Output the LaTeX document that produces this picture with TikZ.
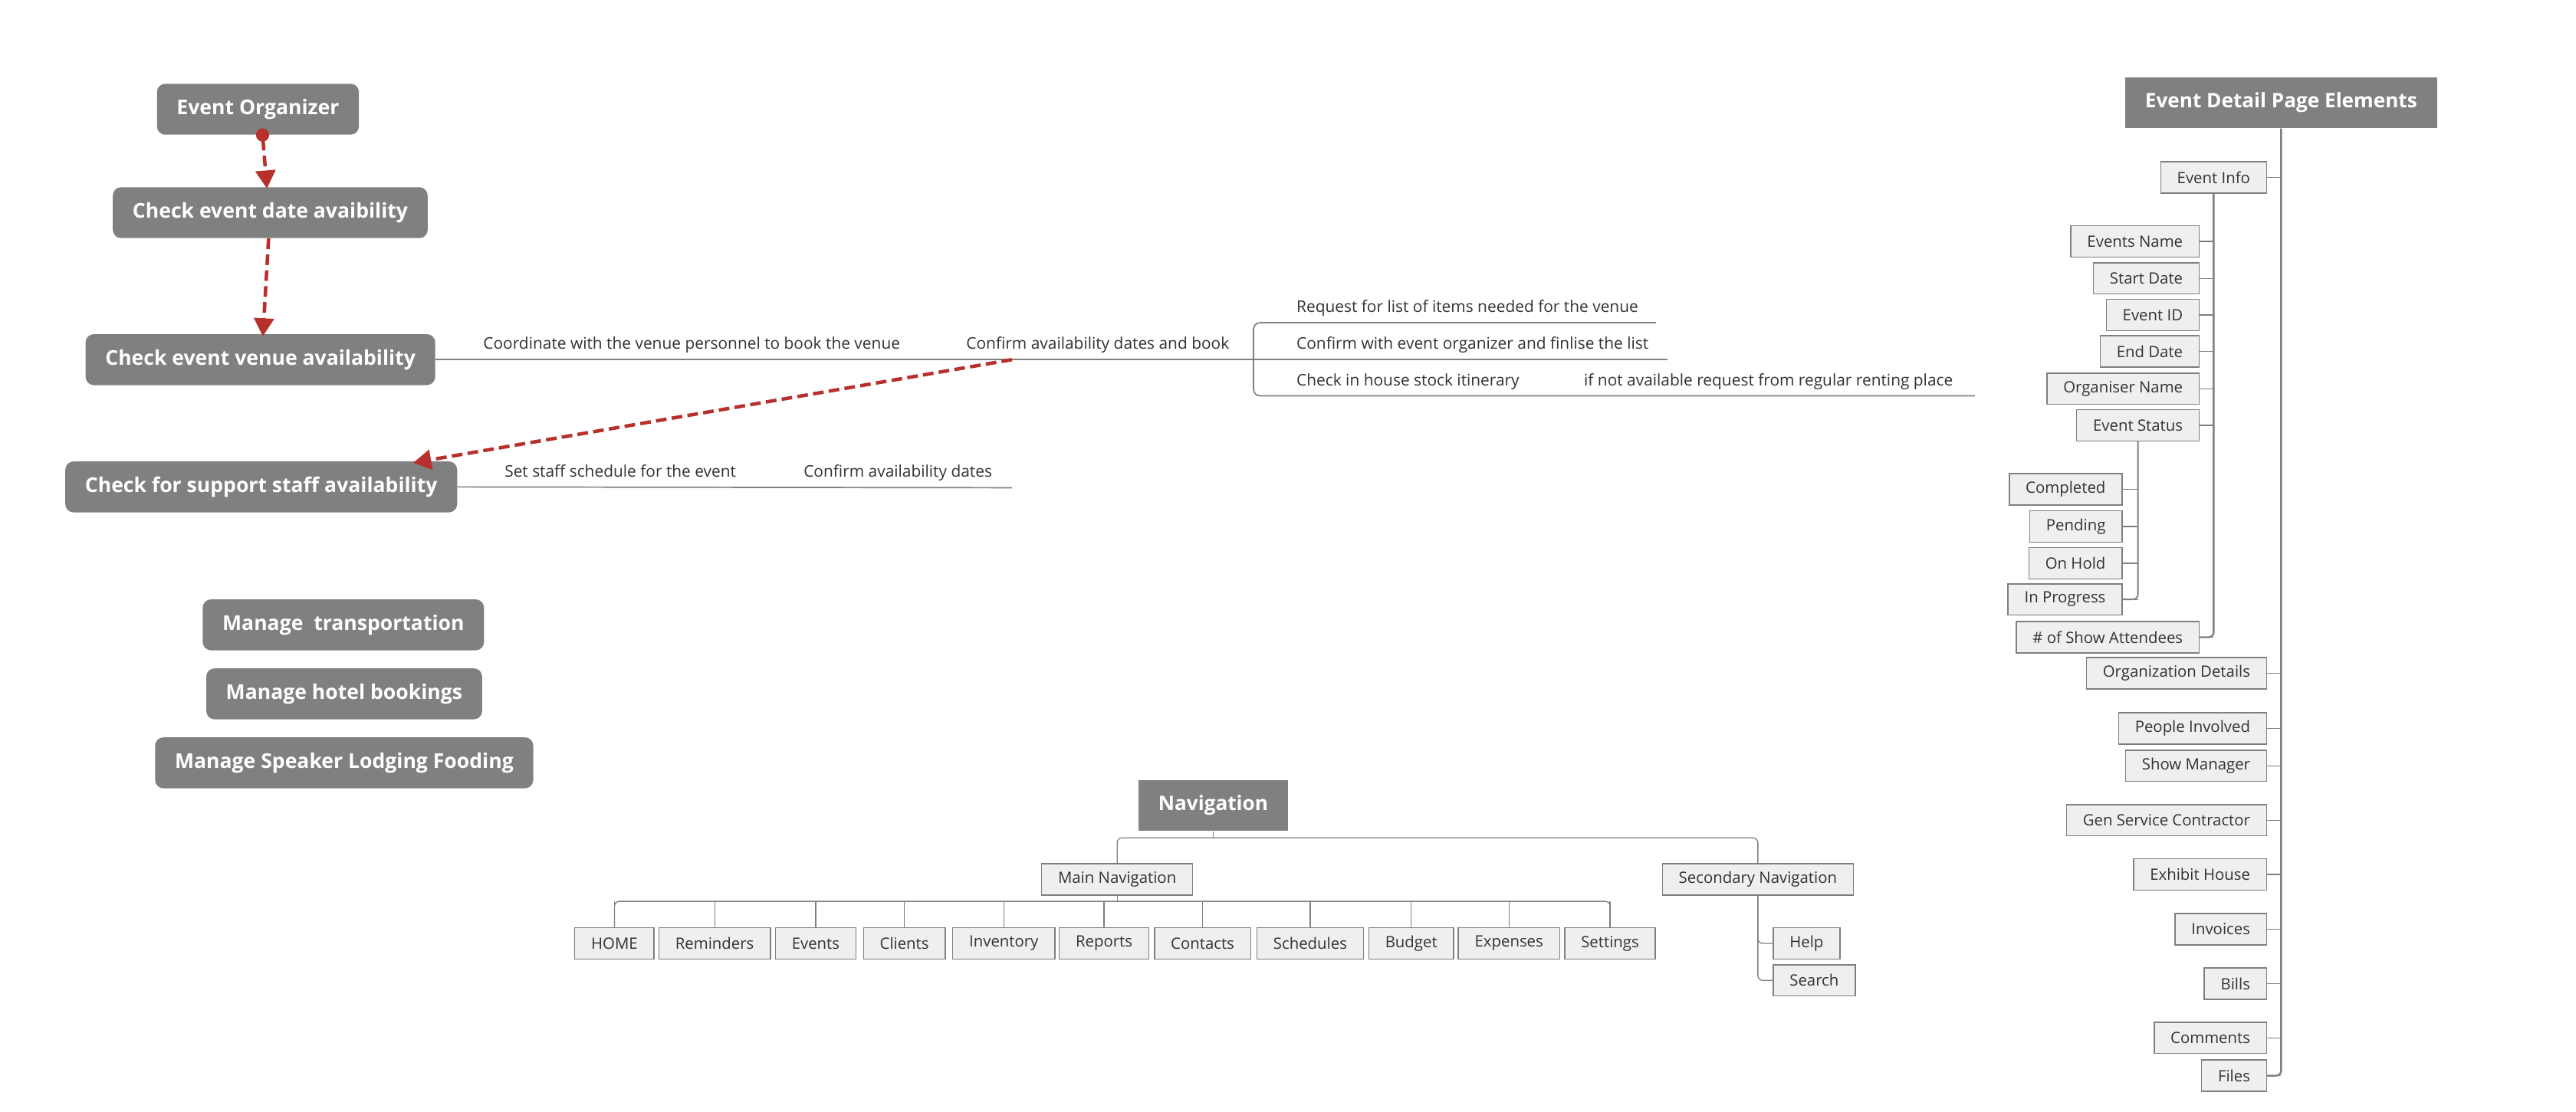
\documentclass[tikz,border=0pt]{standalone}
\usepackage{fontspec}
\setmainfont{Open Sans}
\usetikzlibrary{arrows.meta}
\definecolor{topicGray}{HTML}{808080}
\definecolor{boxFill}{HTML}{EFEFEF}
\definecolor{boxLine}{HTML}{7F7F7F}
\definecolor{flowRed}{HTML}{B8302B}
\definecolor{labelText}{HTML}{333333}
\newcommand{\taskBox}[4]{%%
  %% A rounded task of the planning flow.
  \node[taskStyle] (#1) at (#2,#3) {#4};
}
\newcommand{\topicText}[4]{%%
  %% A topic written on top of its line.
  \node[topicStyle] (#1) at (#2,#3) {#4};
}

\begin{document}
\begin{tikzpicture}[x=1pt,y=-1pt,%%
  taskStyle/.style={fill=topicGray,text=white,rounded corners=5pt,minimum height=31pt,inner xsep=12pt,font=\fontsize{12.4}{14}\selectfont\bfseries},%%
  headStyle/.style={fill=topicGray,text=white,minimum height=31pt,inner xsep=12pt,font=\fontsize{12.2}{14}\selectfont\bfseries},%%
  itemStyle/.style={draw=boxLine,fill=boxFill,line width=0.7pt,text=labelText,minimum height=19pt,inner xsep=10pt,inner ysep=2pt,font=\fontsize{9.5}{11}\selectfont},%%
  topicStyle/.style={anchor=base west,inner sep=0pt,text=labelText,font=\fontsize{9.75}{11}\selectfont},%%
  lineStyle/.style={draw=topicGray,line width=0.8pt},%%
  trunkStyle/.style={draw=boxLine,line width=1.1pt,rounded corners=3pt},%%
  branchStyle/.style={draw=boxLine,line width=0.6pt,rounded corners=3pt},%%
  flowStyle/.style={draw=flowRed,line width=2.1pt,dash pattern=on 6.5pt off 3.2pt,-{Triangle[length=11pt,width=12pt]}}%%
]
%%
%% The page.
\fill[white] (0,0) rectangle (1568,676.7);
%%
%% The planning flow on the left.
\taskBox{organizer}{157}{66.5}{Event Organizer}
\taskBox{dateCheck}{164.5}{129.5}{Check event date avaibility}
\taskBox{venueCheck}{158.5}{219}{Check event venue availability}
\taskBox{staffCheck}{159}{296.5}{Check for support staff availability}
\taskBox{transport}{209}{380.5}{Manage\ \ transportation}
\taskBox{hotel}{209.5}{422.5}{Manage hotel bookings}
\taskBox{speaker}{209.5}{464.5}{Manage Speaker Lodging Fooding}
%%
%% Ends of the topic lines.
\coordinate (bookPoint) at (616,219);
\coordinate (venueEnd) at (763,219);
\coordinate (listEnd) at (1008,196.5);
\coordinate (finaliseEnd) at (1015,219);
\coordinate (rentEnd) at (1202,241);
\coordinate (staffEnd) at (616,297);
%%
%% Topics of the venue.
\topicText{coordinateTopic}{294}{212.5}{Coordinate with the venue personnel to book the venue}
\topicText{bookTopic}{588}{212.5}{Confirm availability dates and book}
\topicText{listTopic}{789}{190}{Request for list of items needed for the venue}
\topicText{finaliseTopic}{789}{212.5}{Confirm with event organizer and finlise the list}
\topicText{stockTopic}{789}{235}{Check in house stock itinerary}
\topicText{rentTopic}{964}{235}{if not available request from regular renting place}
\draw[lineStyle] (venueCheck.east) -- (venueEnd);
\draw[lineStyle,rounded corners=4pt] (listEnd) -| (venueEnd) |- (rentEnd);
\draw[lineStyle] (venueEnd) -- (finaliseEnd);
%%
%% Topics of the staff.
\topicText{scheduleTopic}{307}{290.5}{Set staff schedule for the event}
\topicText{datesTopic}{489}{290.5}{Confirm availability dates}
\draw[lineStyle] (staffCheck.east) -- (staffEnd);
%%
%% The dashed flow.
\draw[flowStyle,{Circle[length=8pt]}-{Triangle[length=11pt,width=12pt]}] ([xshift=2.5pt,yshift=4pt]organizer.south) -- ([xshift=-2pt,yshift=-1pt]dateCheck.north);
\draw[flowStyle] ([xshift=-1pt]dateCheck.south) -- ([xshift=1.5pt,yshift=-1.5pt]venueCheck.north);
\draw[flowStyle] (bookPoint) -- ([xshift=-27pt,yshift=-1pt]staffCheck.north east);
%%
%% The navigation tree.
\node[headStyle] (navigation) at (738.5,490.5) {Navigation};
\node[itemStyle] (mainNav) at (680,535.5) {Main Navigation};
\node[itemStyle] (secNav) at (1070,535.5) {Secondary Navigation};
\coordinate (navBar) at ([yshift=-4pt]navigation.south);
\coordinate (mainBar) at ([yshift=-3.5pt]mainNav.south);
\draw[branchStyle] (navigation.south) -- (navBar);
\draw[branchStyle] (mainNav.north) |- (navBar) -| (secNav.north);
\foreach \name/\x/\txt in {home/374/HOME, reminders/435/Reminders, events/496.5/Events, clients/550.5/Clients, inventory/611/Inventory, reports/672/Reports, contacts/732/Contacts, schedules/797.5/Schedules, budget/859/Budget, expenses/918.5/Expenses, settings/980/Settings}
{
  \node[itemStyle] (\name) at (\x,574.5) {\txt};
  \draw[branchStyle] (\name.north) -- (\name.north |- mainBar);
}
\draw[branchStyle] (mainNav.south) -- (mainBar);
\draw[branchStyle] (home.north) |- (mainBar) -| (settings.north);
\node[itemStyle,anchor=west] (help) at (1079,574.5) {Help};
\node[itemStyle,anchor=west] (search) at (1079,597) {Search};
\draw[branchStyle] (secNav.south) |- (help.west);
\draw[branchStyle] (secNav.south) |- (search.west);
%%
%% The elements of the event detail page.
\node[headStyle] (detail) at (1388.5,62.5) {Event Detail Page Elements};
\foreach \name/\y/\txt in {eventInfo/108/Event Info, orgDetails/410/Organization Details, people/443.6/People Involved, showManager/466.3/Show Manager, contractor/499.5/Gen Service Contractor, exhibit/532.5/Exhibit House, invoices/565.8/Invoices, bills/599/Bills, comments/632/Comments, files/655/Files}
{
  \node[itemStyle,anchor=east] (\name) at (1380,\y) {\txt};
  \draw[branchStyle] (\name.east) -- (\name.east -| detail.south);
}
\draw[trunkStyle] (detail.south) |- (files.east);
%% Event info.
\foreach \name/\y/\txt in {eventsName/147/Events Name, startDate/169.5/Start Date, eventId/191.8/Event ID, endDate/214/End Date, organiserName/236.7/Organiser Name, eventStatus/259/Event Status, attendees/388/\# of Show Attendees}
{
  \node[itemStyle,anchor=east] (\name) at (1339,\y) {\txt};
  \draw[branchStyle] (\name.east) -- (\name.east -| eventInfo.south);
}
\draw[trunkStyle] (eventInfo.south) |- (attendees.east);
%% Event status.
\foreach \name/\y/\txt in {completed/298/Completed, pending/320.6/Pending, onHold/343/On Hold, inProgress/365/In Progress}
{
  \node[itemStyle,anchor=east] (\name) at (1292,\y) {\txt};
  \draw[branchStyle] (\name.east) -- (\name.east -| eventStatus.south);
}
\draw[trunkStyle,line width=0.9pt] (eventStatus.south) |- (inProgress.east);
\end{tikzpicture}
\end{document}
